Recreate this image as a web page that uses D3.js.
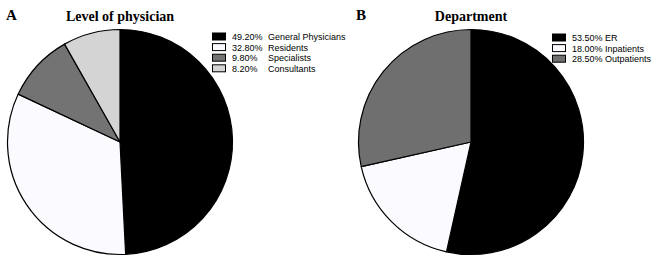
<!DOCTYPE html>
<html>
<head>
<meta charset="utf-8">
<script src="https://cdn.jsdelivr.net/npm/d3@7"></script>
<style>
  body { margin: 0; background: #fff; }
  .title { font-family: "Liberation Serif", "Times New Roman", serif; font-weight: bold; }
  .legend text { font-family: "Liberation Sans", Arial, sans-serif; font-size: 9px; }
</style>
</head>
<body>
<svg id="chart" width="666" height="262"></svg>
<script>
const physicianLabels = ['General Physicians', 'Residents', 'Specialists', 'Consultants'];
const physicianValues = [49.2, 32.8, 9.8, 8.2];
const physicianColors = ['#000000', '#fbfaff', '#737373', '#d4d4d4'];

const deptLabels = ['ER', 'Inpatients', 'Outpatients'];
const deptValues = [53.5, 18.0, 28.5];
const deptColors = ['#000000', '#fbfaff', '#6f6f6f'];

const svg = d3.select('svg#chart');
const radius = 112.5;

function drawPanel(opts) {
  const g = svg.append('g');

  g.append('text')
      .attr('class', 'title')
      .attr('x', opts.letterX)
      .attr('y', 20)
      .attr('font-size', 15)
      .text(opts.letter);

  g.append('text')
      .attr('class', 'title')
      .attr('x', opts.cx)
      .attr('y', 21)
      .attr('text-anchor', 'middle')
      .attr('font-size', 14)
      .text(opts.title);

  const pie = d3.pie().sort(null).value(d => d);
  const arc = d3.arc().innerRadius(0).outerRadius(radius);

  const pg = g.append('g').attr('transform', `translate(${opts.cx},${opts.cy})`);
  pg.selectAll('path')
      .data(pie(opts.values))
      .join('path')
      .attr('d', arc)
      .attr('fill', (d, i) => opts.colors[i])
      .attr('stroke', '#000')
      .attr('stroke-width', 1.2)
      .attr('stroke-linejoin', 'round');

  const lg = g.append('g')
      .attr('class', 'legend')
      .attr('transform', `translate(${opts.legendX},${opts.legendY})`);
  const rows = lg.selectAll('g')
      .data(opts.values)
      .join('g')
      .attr('transform', (d, i) => `translate(0,${i * 10.6})`);
  rows.append('rect')
      .attr('x', 0.5)
      .attr('y', -3)
      .attr('width', 13)
      .attr('height', 7)
      .attr('fill', (d, i) => opts.colors[i])
      .attr('stroke', '#000')
      .attr('stroke-width', 1);
  rows.append('text')
      .attr('x', 20)
      .attr('y', 4)
      .text(d => d.toFixed(2) + '%');
  rows.append('text')
      .attr('x', opts.nameX)
      .attr('y', 4)
      .text((d, i) => opts.labels[i]);
}

drawPanel({
  letter: 'A', letterX: 6, title: 'Level of physician',
  cx: 120, cy: 142,
  values: physicianValues, labels: physicianLabels, colors: physicianColors,
  legendX: 212, legendY: 36, nameX: 56
});

drawPanel({
  letter: 'B', letterX: 356, title: 'Department',
  cx: 471, cy: 142,
  values: deptValues, labels: deptLabels, colors: deptColors,
  legendX: 552, legendY: 37, nameX: 53
});
</script>
</body>
</html>
